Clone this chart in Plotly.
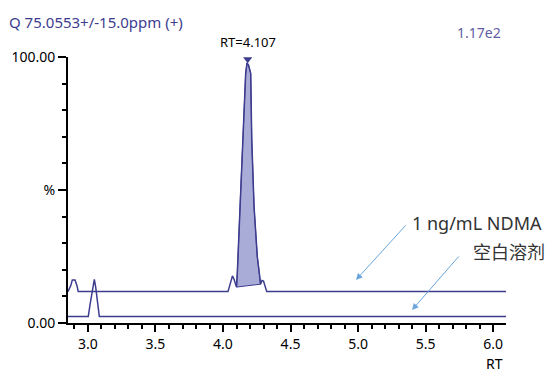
import plotly.graph_objects as go

# ---- data ----
ndma_rt = [2.852, 2.874, 2.884, 2.904, 2.919, 2.928, 4.037, 4.059, 4.070, 4.081,
           4.100, 4.106, 4.126, 4.146, 4.168, 4.178, 4.189, 4.205, 4.213, 4.230,
           4.254, 4.269, 4.278, 4.289, 4.300, 4.324, 6.096]
ndma_pct = [11.8, 14.3, 16.2, 16.2, 13.9, 11.8, 11.8, 16.5, 17.7, 16.5,
            13.5, 18.7, 43.7, 68.8, 93.9, 97.8, 97.0, 93.9, 68.8, 43.7,
            24.9, 18.7, 14.6, 16.0, 15.8, 11.8, 11.8]
peak_start, peak_end = 10, 22  # indices of integrated peak in ndma arrays

blank_rt = [2.852, 3.002, 3.015, 3.032, 3.047, 3.057, 3.067, 3.077, 3.084, 6.096]
blank_pct = [2.4, 2.4, 6.8, 11.3, 16.4, 13.5, 9.4, 4.9, 2.4, 2.4]

apex_rt = 4.183
apex_label = "RT=4.107"
y_tickvals = [0, 50, 100]
y_ticktext = ["0.00", "%", "100.00"]
header_text = "Q 75.0553+/-15.0ppm (+)"
scale_text = "1.17e2"
label_ndma = "1 ng/mL NDMA"
label_blank = "空白溶剂"

# ---- styles ----
FONT = "Noto Sans, Noto Sans CJK SC, sans-serif"
LINE = "#3d3d8f"
FILL = "#a9acd6"
ARROW = "#6aa6dc"

fig = go.Figure()

fill_x = ndma_rt[peak_start:peak_end + 1] + [ndma_rt[peak_start]]
fill_y = ndma_pct[peak_start:peak_end + 1] + [ndma_pct[peak_start]]
fig.add_trace(go.Scatter(x=fill_x, y=fill_y, mode="lines", fill="toself",
                         fillcolor=FILL, line=dict(color=LINE, width=1),
                         hoverinfo="skip", showlegend=False))
fig.add_trace(go.Scatter(x=ndma_rt, y=ndma_pct, mode="lines",
                         line=dict(color=LINE, width=1.5), showlegend=False))
fig.add_trace(go.Scatter(x=blank_rt, y=blank_pct, mode="lines",
                         line=dict(color=LINE, width=1.5), showlegend=False))
fig.add_trace(go.Scatter(x=[apex_rt], y=[99.2], mode="markers",
                         marker=dict(symbol="triangle-down", size=8, color=LINE),
                         showlegend=False, cliponaxis=False))

# page body has an 8px margin, so the figure is 8px smaller and margins shifted
fig.update_layout(
    width=548, height=371,
    margin=dict(l=60, r=50, t=49, b=56),
    paper_bgcolor="white", plot_bgcolor="white",
    font=dict(family=FONT, color="black", size=14),
    showlegend=False,
    xaxis=dict(range=[2.852, 6.096], showgrid=False, zeroline=False,
               automargin=False,
               showline=True, linecolor="black", linewidth=2,
               ticks="outside", ticklen=7, tickwidth=1.5, tickcolor="black",
               tick0=0, dtick=0.5, tickformat=".1f",
               tickfont=dict(size=14, family=FONT),
               minor=dict(dtick=0.1, tick0=0, ticks="outside", ticklen=4,
                          tickwidth=1.5, tickcolor="black")),
    yaxis=dict(range=[0, 100], showgrid=False, zeroline=False,
               automargin=False,
               showline=True, linecolor="black", linewidth=2,
               ticks="outside", ticklen=8, tickwidth=1.5, tickcolor="black",
               tickvals=y_tickvals, ticktext=y_ticktext,
               tickfont=dict(size=14, family=FONT),
               minor=dict(dtick=10, tick0=0, ticks="outside", ticklen=4,
                          tickwidth=1.5, tickcolor="black")),
)

ann = []
ann.append(dict(xref="x", yref="y", x=apex_rt, y=100, text=apex_label,
                showarrow=False, yanchor="bottom", yshift=4,
                font=dict(size=13, color="black", family=FONT)))
ann.append(dict(xref="paper", yref="paper", x=(7 - 68) / 438, y=(323 - 22) / 266,
                text=header_text, showarrow=False, xanchor="left", yanchor="middle",
                font=dict(size=15, color="#3d3d8f", family=FONT)))
ann.append(dict(xref="paper", yref="paper", x=(503 - 68) / 438, y=(323 - 32) / 266,
                text=scale_text, showarrow=False, xanchor="right", yanchor="middle",
                font=dict(size=14, color="#5e5ea2", family=FONT)))
ann.append(dict(xref="paper", yref="paper", x=(494 - 68) / 438, y=(323 - 363) / 266,
                text="RT", showarrow=False, xanchor="center", yanchor="middle",
                font=dict(size=14, color="black", family=FONT)))
ann.append(dict(xref="paper", yref="paper", x=(410 - 68) / 438, y=(323 - 223) / 266,
                text=label_ndma, showarrow=False, xanchor="left", yanchor="middle",
                font=dict(size=18, color="#333333", family=FONT)))
ann.append(dict(xref="paper", yref="paper", x=(547 - 68) / 438, y=(323 - 252) / 266,
                text=label_blank, showarrow=False, xanchor="right", yanchor="middle",
                font=dict(size=18, color="#333333", family=FONT)))
# arrows
ann.append(dict(xref="x", yref="y", x=4.985, y=16.2, ax=51, ay=-56, text="",
                showarrow=True, arrowhead=2, arrowsize=1.3, arrowwidth=1,
                arrowcolor=ARROW))
ann.append(dict(xref="x", yref="y", x=5.40, y=4.9, ax=48, ay=-55, text="",
                showarrow=True, arrowhead=2, arrowsize=1.3, arrowwidth=1,
                arrowcolor=ARROW))
fig.update_layout(annotations=ann)

fig.write_html("out.html")
